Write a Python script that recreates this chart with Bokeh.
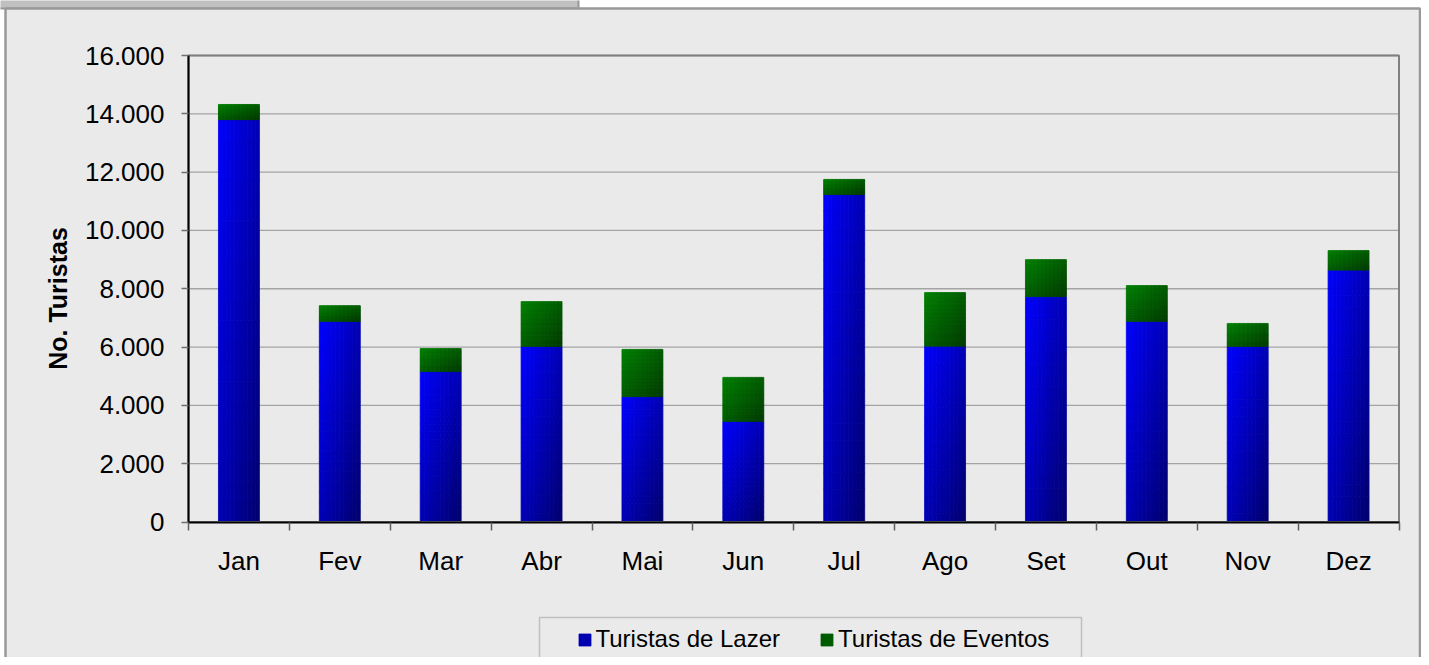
import math
from bokeh.plotting import figure
from bokeh.models import Range1d, FixedTicker, Legend, LegendItem, ColumnDataSource
from bokeh.core.properties import value
from bokeh.embed import file_html
from bokeh.resources import INLINE

# ---------------- data ----------------
months = ["Jan", "Fev", "Mar", "Abr", "Mai", "Jun", "Jul", "Ago", "Set", "Out", "Nov", "Dez"]
lazer = [13800, 6880, 5160, 6020, 4300, 3450, 11230, 6030, 7730, 6880, 6020, 8640]
eventos = [520, 540, 790, 1540, 1620, 1510, 520, 1840, 1270, 1230, 790, 670]
series_names = ["Turistas de Lazer", "Turistas de Eventos"]
y_ticks = [0, 2000, 4000, 6000, 8000, 10000, 12000, 14000, 16000]
y_tick_labels = ["0", "2.000", "4.000", "6.000", "8.000", "10.000", "12.000", "14.000", "16.000"]
y_title = "No. Turistas"

# ---------------- layout (pixels) ----------------
W, H = 1421, 657
PLOT_L, PLOT_R = 188.0, 1398.5      # plot area, horizontal
PLOT_T, PLOT_B = 55.0, 521.5        # plot area, vertical
N = len(months)
Y_MAX = y_ticks[-1]
SX = (PLOT_R - PLOT_L) / N
SY = (PLOT_B - PLOT_T) / Y_MAX


def X(px):
    return (px - PLOT_L) / SX


def Y(py):
    return (PLOT_B - py) / SY


BG = "#eaeaea"
FONT = "Liberation Sans"
BAR_W = 0.406
NX, NY = 10, 20
BLUE0, BLUE1 = (0, 0, 255), (0, 0, 108)
GREEN0, GREEN1 = (0, 128, 0), (0, 58, 0)


def gradient_cells(bottoms, tops, c0, c1, nx=NX, ny=NY):
    L, R, T, B, C = [], [], [], [], []
    for i, (b, t) in enumerate(zip(bottoms, tops)):
        x0 = i + 0.5 - BAR_W / 2
        for ix in range(nx):
            for iy in range(ny):
                u = (ix + 0.5) / nx
                v = (iy + 0.5) / ny
                f = 0.5 * u + 0.5 * v
                col = tuple(int(round(a + (bb - a) * f)) for a, bb in zip(c0, c1))
                L.append(x0 + BAR_W * ix / nx)
                R.append(x0 + BAR_W * (ix + 1) / nx)
                T.append(t - (t - b) * iy / ny)
                B.append(t - (t - b) * (iy + 1) / ny)
                C.append("#%02x%02x%02x" % col)
    return ColumnDataSource(dict(left=L, right=R, top=T, bottom=B, color=C))


p = figure(width=W, height=H, output_backend="svg", toolbar_location=None,
           x_range=Range1d(X(0), X(W)), y_range=Range1d(Y(H), Y(0)),
           min_border_left=0, min_border_right=0, min_border_top=0, min_border_bottom=0)
p.background_fill_color = "white"
p.border_fill_color = "white"
p.outline_line_color = None

# chart chrome: tab and outer frame
p.quad(left=X(-5), right=X(578), top=Y(-5), bottom=Y(8),
       fill_color="#c0c0c0", line_color="#999999", line_width=2)
p.quad(left=X(5), right=X(1419.5), top=Y(8), bottom=Y(720),
       fill_color=BG, line_color="#999999", line_width=2.5)

# legend frame
p.quad(left=X(539), right=X(1081), top=Y(617), bottom=Y(661),
       fill_color=BG, line_color="#c0c0c0", line_width=1.5)

# grid lines
p.segment(x0=[0] * len(y_ticks), x1=[N] * len(y_ticks), y0=y_ticks, y1=y_ticks,
          line_color="#a4a4a4", line_width=1.3)

# stacked bars with gradient fill
tops_l = lazer
bottoms_l = [0] * N
tops_e = [a + b for a, b in zip(lazer, eventos)]
src_l = gradient_cells(bottoms_l, tops_l, BLUE0, BLUE1)
src_e = gradient_cells(tops_l, tops_e, GREEN0, GREEN1)
r_l = p.quad(left="left", right="right", top="top", bottom="bottom", source=src_l,
             fill_color="color", line_color="color", line_width=0.8)
r_e = p.quad(left="left", right="right", top="top", bottom="bottom", source=src_e,
             fill_color="color", line_color="color", line_width=0.8)

# plot area outline
p.quad(left=0, right=N, bottom=0, top=Y_MAX, fill_color=None,
       line_color="#808080", line_width=2)

# y title
p.text(x=[X(57)], y=[Y(298)], text=[y_title], angle=math.pi / 2,
       text_align="center", text_baseline="middle",
       text_font=value(FONT), text_font_style="bold", text_font_size="25px", text_color="black")

# legend (swatch colour taken from a middle cell of the gradient)
mid_cell = (NX // 2) * NY + NY // 2
legend = Legend(items=[LegendItem(label=series_names[0], renderers=[r_l], index=mid_cell),
                       LegendItem(label=series_names[1], renderers=[r_e], index=mid_cell)],
                orientation="horizontal", location=(576.5, 4),
                border_line_color=None, background_fill_alpha=0,
                padding=0, margin=0, spacing=39, label_standoff=4,
                glyph_width=15, glyph_height=15, label_height=26,
                label_text_font=FONT, label_text_font_size="24px", label_text_color="black")
p.add_layout(legend)

p.xgrid.visible = False
p.ygrid.visible = False

# y axis
p.yaxis.fixed_location = 0
p.yaxis.bounds = (0, Y_MAX)
p.yaxis.ticker = FixedTicker(ticks=y_ticks)
p.yaxis.major_label_overrides = dict(zip(y_ticks, y_tick_labels))
p.yaxis.major_label_text_font = FONT
p.yaxis.major_label_text_font_size = "26px"
p.yaxis.major_label_text_color = "black"
p.yaxis.major_label_standoff = 17
p.yaxis.major_tick_out = 7
p.yaxis.major_tick_in = 0
p.yaxis.major_tick_line_color = "#707070"
p.yaxis.major_tick_line_width = 1.5
p.yaxis.minor_tick_line_color = None
p.yaxis.axis_line_color = "black"
p.yaxis.axis_line_width = 2

# x axis
centers = [i + 0.5 for i in range(N)]
p.xaxis.fixed_location = 0
p.xaxis.bounds = (0, N)
p.xaxis.ticker = FixedTicker(ticks=centers, minor_ticks=list(range(N + 1)))
p.xaxis.major_label_overrides = dict(zip(centers, months))
p.xaxis.major_label_text_font = FONT
p.xaxis.major_label_text_font_size = "26px"
p.xaxis.major_label_text_color = "black"
p.xaxis.major_label_standoff = 16
p.xaxis.major_tick_out = 0
p.xaxis.major_tick_in = 0
p.xaxis.minor_tick_out = 8
p.xaxis.minor_tick_in = 0
p.xaxis.minor_tick_line_color = "#606060"
p.xaxis.minor_tick_line_width = 1.5
p.xaxis.axis_line_color = "black"
p.xaxis.axis_line_width = 2

open("out.html", "w").write(file_html(p, INLINE))
